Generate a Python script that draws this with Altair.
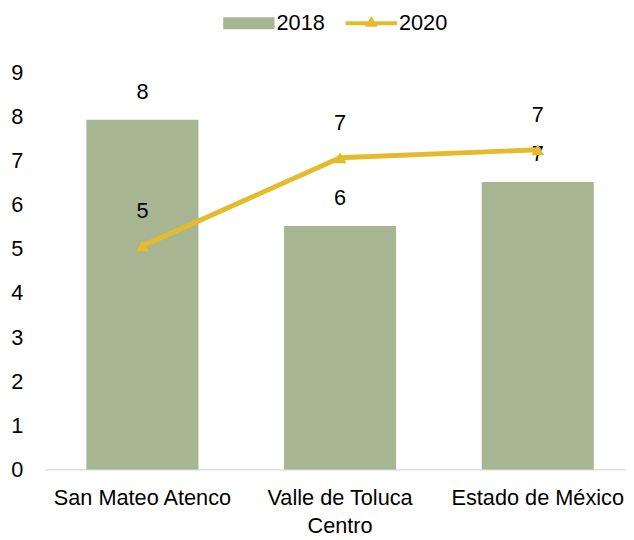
import altair as alt
import pandas as pd

categories = ["San Mateo Atenco", "Valle de Toluca Centro", "Estado de México"]
values_2018 = [7.93, 5.52, 6.52]
values_2020 = [5.07, 7.07, 7.25]
series = ["2018", "2020"]
colors = ["#A7B592", "#E6BB2B"]
y_ticks = [0, 1, 2, 3, 4, 5, 6, 7, 8, 9]

bars_df = pd.DataFrame({"cat": categories, "v": values_2018, "s": series[0]})
line_df = pd.DataFrame({"cat": categories, "v": values_2020, "s": series[1]})

FONT = "Liberation Sans"
FS = 22

x = alt.X(
    "cat:N",
    sort=categories,
    title=None,
    scale=alt.Scale(paddingInner=0.433, paddingOuter=0.1875, align=0.565),
    axis=alt.Axis(
        labelAngle=0,
        labelFontSize=FS,
        labelFont=FONT,
        labelColor="#000000",
        labelPadding=18,
        labelLineHeight=29,
        labelLimit=300,
        ticks=False,
        domainColor="#D9D9D9",
        domainWidth=1.3,
        grid=False,
        labelExpr="datum.label == 'Valle de Toluca Centro' ? ['Valle de Toluca', 'Centro'] : datum.label",
    ),
)
y = alt.Y(
    "v:Q",
    title=None,
    scale=alt.Scale(domain=[0, 9], nice=False),
    axis=alt.Axis(
        values=y_ticks,
        labelFontSize=FS,
        labelFont=FONT,
        labelColor="#000000",
        labelPadding=22,
        ticks=False,
        domain=False,
        grid=False,
    ),
)

rect_path = "M-1,-0.23 H1 V0.23 H-1 Z"
line_path = "M-1,-0.08 H1 V0.08 H-1 Z M0,-0.28 L0.25,0.14 L-0.25,0.14 Z"


def legend(path, lx, fill):
    return alt.Legend(
        title=None,
        orient="none",
        direction="horizontal",
        legendX=lx,
        legendY=-76,
        symbolType=path,
        symbolSize=2704,
        symbolFillColor=fill,
        symbolStrokeWidth=0,
        symbolOpacity=1,
        labelFontSize=FS,
        labelFont=FONT,
        labelColor="#000000",
        labelOffset=2,
    )


color_bar = alt.Color(
    "s:N",
    scale=alt.Scale(domain=[series[0]], range=[colors[0]]),
    legend=legend(rect_path, 181, colors[0]),
)
color_line = alt.Color(
    "s:N",
    scale=alt.Scale(domain=[series[1]], range=[colors[1]]),
    legend=legend(line_path, 305, colors[1]),
)

bars = alt.Chart(bars_df).mark_bar(opacity=1).encode(x=x, y=y, color=color_bar)
bar_text = alt.Chart(bars_df).mark_text(
    dy=-28, fontSize=FS, font=FONT, color="#000000"
).encode(x=x, y=y, text=alt.Text("v:Q", format=".0f"))

line = alt.Chart(line_df).mark_line(strokeWidth=5).encode(x=x, y=y, color=color_line)
points = alt.Chart(line_df).mark_point(
    shape="triangle-up", filled=True, size=170, opacity=1
).encode(x=x, y=y, color=color_line)
line_text = alt.Chart(line_df).mark_text(
    dy=-35, fontSize=FS, font=FONT, color="#000000"
).encode(x=x, y=y, text=alt.Text("v:Q", format=".0f"))

chart = (
    alt.layer(
        alt.layer(bars, bar_text),
        alt.layer(line, points, line_text),
    )
    .resolve_scale(color="independent")
    .properties(
        width=589,
        height=402,
        autosize=alt.AutoSizeParams(type="none"),
        padding={"left": 37, "top": 62, "right": 0, "bottom": 68},
    )
    .configure_view(stroke=None)
)

chart.save("out.html", embed_options={"renderer": "svg", "actions": False})
